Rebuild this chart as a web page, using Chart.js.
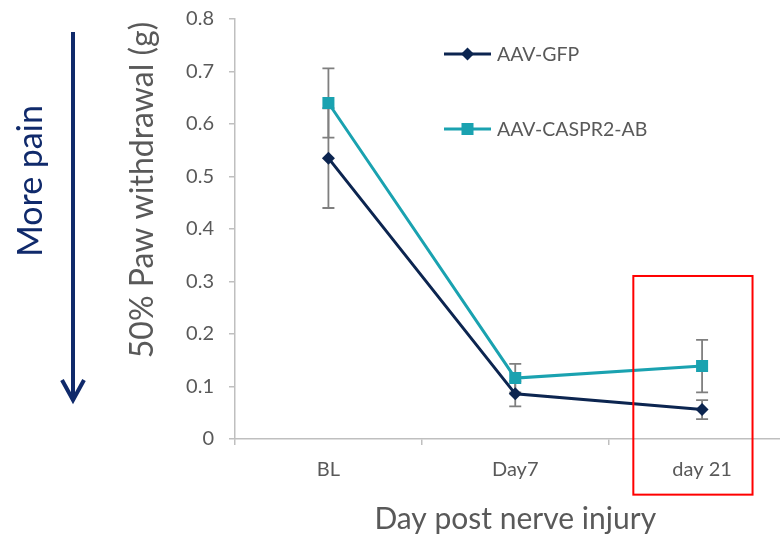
<!DOCTYPE html>
<html>
<head>
<meta charset="utf-8">
<script src="https://cdn.jsdelivr.net/npm/chart.js@4/dist/chart.umd.min.js"></script>
<style>
  html, body { margin: 0; padding: 0; background: #fff; overflow: hidden; }
  #wrap { position: relative; width: 804px; height: 542px; }
</style>
</head>
<body>
<div id="wrap"><canvas id="pawChart"></canvas></div>
<script>
// data
const days = ["BL", "Day7", "day 21"];
const gfpMean = [0.535, 0.086, 0.056];
const gfpErr = [0.095, 0.024, 0.018];
const casprMean = [0.64, 0.116, 0.139];
const casprErr = [0.066, 0.027, 0.05];
const yTicks = [0, 0.1, 0.2, 0.3, 0.4, 0.5, 0.6, 0.7, 0.8];

const NAVY = "#0c2550";
const TEAL = "#1aa2b0";
const GREY_TXT = "#595959";
const AXIS = "#bfbfbf";
const ARROW = "#102a6b";

Chart.defaults.font.family = "Lato, 'Open Sans', sans-serif";

// error bars under the lines
const errorBars = {
  id: "errorBars",
  beforeDatasetsDraw(chart) {
    const ctx = chart.ctx;
    const x = chart.scales.x, y = chart.scales.y;
    const sets = [[gfpMean, gfpErr], [casprMean, casprErr]];
    ctx.save();
    ctx.strokeStyle = "#7f7f7f";
    ctx.lineWidth = 1.8;
    sets.forEach(([m, e]) => {
      m.forEach((v, i) => {
        const px = x.getPixelForValue(i);
        const top = y.getPixelForValue(v + e[i]);
        const bot = y.getPixelForValue(v - e[i]);
        ctx.beginPath();
        ctx.moveTo(px, top); ctx.lineTo(px, bot);
        ctx.moveTo(px - 6, top); ctx.lineTo(px + 6, top);
        ctx.moveTo(px - 6, bot); ctx.lineTo(px + 6, bot);
        ctx.stroke();
      });
    });
    ctx.restore();
  },
};

// legend, y title, "More pain" arrow and the red box
const extras = {
  id: "extras",
  afterDraw(chart) {
    const ctx = chart.ctx;
    const x = chart.scales.x, y = chart.scales.y;
    ctx.save();

    // red highlight box around day 21
    const bx1 = x.getPixelForValue(2 - 0.368), bx2 = x.getPixelForValue(2 + 0.27);
    const by1 = y.getPixelForValue(0.3105), by2 = y.getPixelForValue(-0.106);
    ctx.strokeStyle = "#ff0000";
    ctx.lineWidth = 2;
    ctx.strokeRect(bx1, by1, bx2 - bx1, by2 - by1);

    // legend
    const items = [
      { label: "AAV-GFP", color: NAVY, style: "rectRot", r: 6.5, ly: 54 },
      { label: "AAV-CASPR2-AB", color: TEAL, style: "rect", r: 8.5, ly: 129 },
    ];
    items.forEach((it) => {
      ctx.strokeStyle = it.color;
      ctx.lineWidth = 3;
      ctx.beginPath();
      ctx.moveTo(444, it.ly); ctx.lineTo(491, it.ly);
      ctx.stroke();
      ctx.fillStyle = it.color;
      Chart.helpers.drawPoint(ctx, { pointStyle: it.style, radius: it.r, borderWidth: 0 }, 467.5, it.ly);
      ctx.fillStyle = GREY_TXT;
      ctx.font = "19.5px Lato";
      ctx.textAlign = "left";
      ctx.textBaseline = "middle";
      ctx.fillText(it.label, 497, it.ly + 1);
    });

    // y axis title
    ctx.save();
    ctx.translate(143, 190);
    ctx.rotate(-Math.PI / 2);
    ctx.fillStyle = GREY_TXT;
    ctx.font = "32px Lato";
    ctx.textAlign = "center";
    ctx.textBaseline = "middle";
    ctx.fillText("50% Paw withdrawal (g)", 0, 0);
    ctx.restore();

    // "More pain" with arrow
    ctx.save();
    ctx.translate(42, 181);
    ctx.rotate(-Math.PI / 2);
    ctx.fillStyle = ARROW;
    ctx.font = "34px Lato";
    ctx.textAlign = "center";
    ctx.textBaseline = "alphabetic";
    ctx.fillText("More pain", 0, 0);
    ctx.restore();

    ctx.strokeStyle = ARROW;
    ctx.lineWidth = 4;
    ctx.beginPath();
    ctx.moveTo(73, 32); ctx.lineTo(73, 399);
    ctx.stroke();
    ctx.lineJoin = "miter";
    ctx.beginPath();
    ctx.moveTo(62, 380); ctx.lineTo(73, 400); ctx.lineTo(84, 380);
    ctx.stroke();

    ctx.restore();
  },
};

const ctx = document.getElementById("pawChart").getContext("2d");
const chart = new Chart(ctx, {
  type: "line",
  data: {
    labels: days,
    datasets: [
      {
        label: "AAV-GFP",
        data: gfpMean,
        borderColor: NAVY,
        backgroundColor: NAVY,
        borderWidth: 3,
        pointStyle: "rectRot",
        pointRadius: 6.5,
        pointBorderWidth: 0,
        tension: 0,
        order: 1,
      },
      {
        label: "AAV-CASPR2-AB",
        data: casprMean,
        borderColor: TEAL,
        backgroundColor: TEAL,
        borderWidth: 3,
        pointStyle: "rect",
        pointRadius: 8.5,
        pointBorderWidth: 0,
        tension: 0,
        order: 0,
      },
    ],
  },
  options: {
    responsive: true,
    maintainAspectRatio: false,
    animation: false,
    layout: { padding: { left: 121, top: 19, right: 5, bottom: 0 } },
    plugins: {
      legend: { display: false },
      tooltip: { enabled: false },
    },
    scales: {
      x: {
        type: "category",
        offset: true,
        grid: { offset: true, drawOnChartArea: false, tickLength: 6, color: AXIS, lineWidth: 1.5 },
        border: { color: AXIS, width: 1.5 },
        ticks: { font: { size: 20 }, color: GREY_TXT, padding: 13 },
        title: {
          display: true,
          text: "Day post nerve injury",
          color: GREY_TXT,
          font: { size: 30 },
          padding: { top: 0, bottom: 5 },
        },
        afterFit(scale) { scale.height = 103; },
      },
      y: {
        min: 0,
        max: 0.8,
        afterBuildTicks(scale) { scale.ticks = yTicks.map((v) => ({ value: v })); },
        grid: { drawOnChartArea: false, tickLength: 6, color: AXIS, lineWidth: 1.5 },
        border: { color: AXIS, width: 1.5 },
        ticks: {
          font: { size: 20 },
          color: GREY_TXT,
          padding: 15,
          callback: (v) => (v === 0 ? "0" : v.toFixed(1)),
        },
        afterFit(scale) {
          scale.width = 114;
          scale.paddingTop = 0;
          scale.paddingBottom = 0;
        },
      },
    },
  },
  plugins: [errorBars, extras],
});
</script>
</body>
</html>
